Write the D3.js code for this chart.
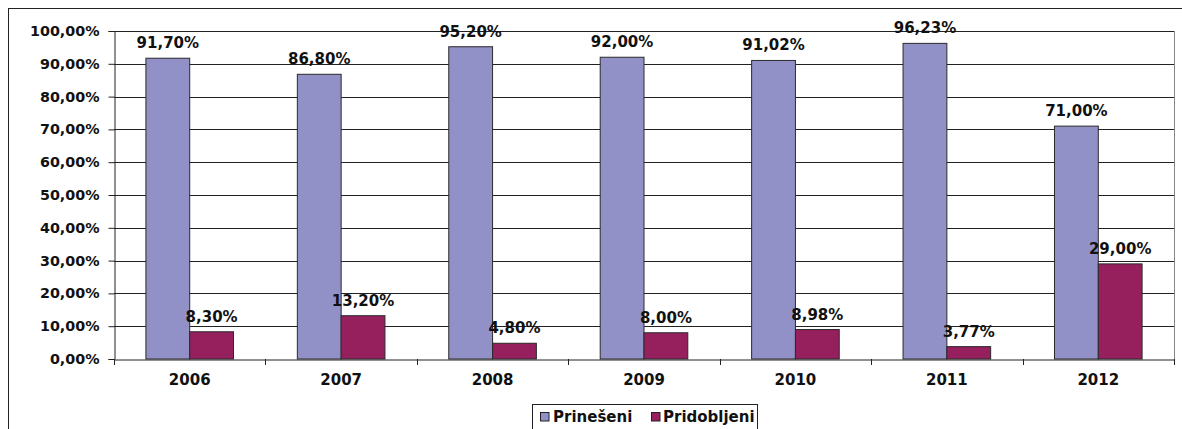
<!DOCTYPE html>
<html><head><meta charset="utf-8">
<script src="https://cdn.jsdelivr.net/npm/d3@7"></script>
<style>body{margin:0;background:#fff}svg{display:block;font-family:"DejaVu Sans",sans-serif;font-weight:bold}</style>
</head><body><svg id="c" width="1182" height="429"></svg>
<script>
const years = ["2006","2007","2008","2009","2010","2011","2012"];
const prineseni = [91.70, 86.80, 95.20, 92.00, 91.02, 96.23, 71.00];
const pridobljeni = [8.30, 13.20, 4.80, 8.00, 8.98, 3.77, 29.00];
const seriesNames = ["Prinešeni", "Pridobljeni"];
const yTicks = [0,10,20,30,40,50,60,70,80,90,100];

const colors = ["#9191C7", "#961F5E"];
const FONT = "'DejaVu Sans',sans-serif";
const svg = d3.select("#c");
const L = 114, R = 1174, T = 31, B = 359;
const fmt = v => v.toFixed(2).replace(".", ",") + "%";

// outer frame
svg.append("line").attr("x1",8.5).attr("x2",1182).attr("y1",8.5).attr("y2",8.5).attr("stroke","#222");
svg.append("line").attr("x1",8.5).attr("x2",8.5).attr("y1",8).attr("y2",429).attr("stroke","#222");

const x = d3.scaleBand().domain(years).range([L, R]);
const y = d3.scaleLinear().domain([0, 100]).range([B, T]);
const bw = 43.8;

// gridlines
svg.append("g").selectAll("line").data(yTicks.filter(d=>d>0)).join("line")
  .attr("x1", L).attr("x2", R).attr("y1", d=>Math.round(y(d))+0.5).attr("y2", d=>Math.round(y(d))+0.5)
  .attr("stroke", "#222").attr("stroke-width", 1);
// right border
svg.append("line").attr("x1",R+0.5).attr("x2",R+0.5).attr("y1",T).attr("y2",B).attr("stroke","#888");

// y axis
const ya = svg.append("g").attr("transform", `translate(${L+0.5},0)`)
  .call(d3.axisLeft(y).tickValues(yTicks).tickSize(6).tickFormat(fmt));
ya.select(".domain").attr("stroke","#222");
ya.selectAll(".tick line").attr("stroke","#222");
ya.selectAll(".tick text").attr("font-size", 14.3).attr("font-weight","bold").attr("fill","#111")
  .attr("font-family",FONT).attr("dx",-6);

const data = years.map((yr,i)=>({yr, vals:[prineseni[i], pridobljeni[i]]}));
const g = svg.append("g");
data.forEach(d=>{
  const cx = x(d.yr) + x.bandwidth()/2;
  d.vals.forEach((v,j)=>{
    const x0 = cx - bw + j*bw;
    g.append("rect").attr("x", x0).attr("y", y(v)).attr("width", bw).attr("height", B - y(v))
      .attr("fill", colors[j]).attr("stroke", "#2a2a2a").attr("stroke-width", 1);
    g.append("text").attr("x", x0 + bw/2).attr("y", y(v) - 10).attr("text-anchor","middle")
      .attr("font-size", 15).attr("fill","#111").text(fmt(v));
  });
});

// x axis
const xa = svg.append("g").attr("transform", `translate(0,${B+0.5})`)
  .call(d3.axisBottom(x).tickSize(0).tickPadding(15));
xa.select(".domain").attr("stroke","#222");
xa.selectAll(".tick text").attr("font-size", 15).attr("font-weight","bold").attr("fill","#111")
  .attr("font-family",FONT);
svg.append("g").selectAll("line").data(years.concat(["end"])).join("line")
  .attr("x1", (d,i)=>Math.round(L + i*x.bandwidth())+0.5).attr("x2",(d,i)=>Math.round(L + i*x.bandwidth())+0.5)
  .attr("y1", B).attr("y2", B+6).attr("stroke","#222");

// legend
const lg = svg.append("g");
lg.append("rect").attr("x",532.5).attr("y",404.5).attr("width",225).attr("height",30).attr("fill","#fff").attr("stroke","#222");
const items = [{x:540, tx:553, t:seriesNames[0]}, {x:651, tx:663, t:seriesNames[1]}];
items.forEach((it,j)=>{
  lg.append("rect").attr("x", it.x+0.5).attr("y", 412.5).attr("width", 8.5).attr("height", 8.5)
    .attr("fill", colors[j]).attr("stroke","#222");
  lg.append("text").attr("x", it.tx).attr("y", 421.5).attr("font-size", 15).attr("fill","#111").text(it.t);
});
</script></body></html>
